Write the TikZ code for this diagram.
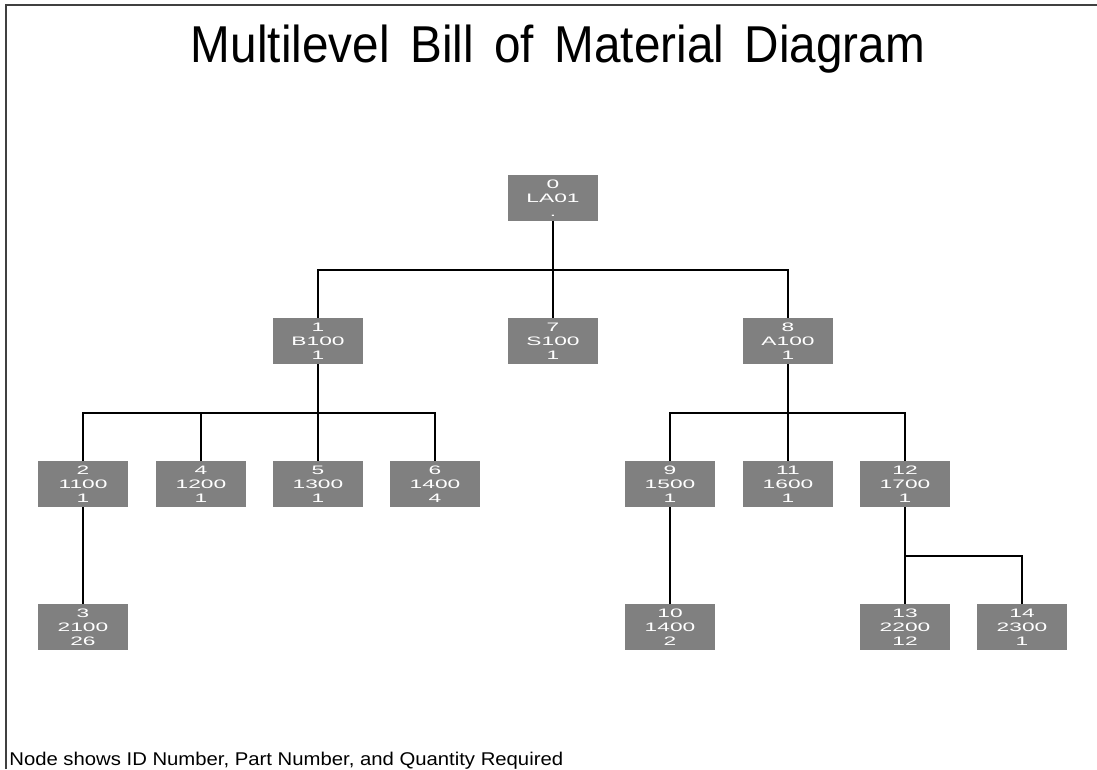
\documentclass[tikz,border=0pt]{standalone}
\usepackage{fontspec}
\setmainfont{Liberation Sans}
\newfontfamily\titlefont[FakeStretch=0.92, WordSpace=1.55]{Liberation Sans}
\newfontfamily\partfont[FakeStretch=1.85]{Liberation Sans}
\newfontfamily\notefont[FakeStretch=1.1]{Liberation Sans}
\usetikzlibrary{positioning}

\begin{document}
\begin{tikzpicture}[x=0.02cm,y=-0.02cm]
		\tikzstyle{every node}=[font=\partfont\fontsize{7}{7.9}\selectfont]
		\tikzstyle{part}=[fill=black!50, text=white, align=center, inner sep=0pt, minimum width=1.8cm, minimum height=0.92cm]
		\tikzstyle{link}=[line width=0.6pt]
		
		\useasboundingbox (0,0) rectangle (1097,769);
		\draw[line width=1.2pt, black!75] (6,769) -- (6,5) -- (1097,5);
		
		\node[anchor=base, inner sep=0pt] (title) at (558,62) {\titlefont\fontsize{29.5}{34}\selectfont Multilevel Bill of Material Diagram};
		\node[anchor=base west, inner sep=0pt] (note) at (9,765) {\notefont\fontsize{10.5}{12}\selectfont Node shows ID Number, Part Number, and Quantity Required};
		
		% level 0
		\node[part] (n0) at (553,198) {0\\LA01\\.};
		% level 1
		\node[part] (n1) at (318,341) {1\\B100\\1};
		\node[part] (n7) at (553,341) {7\\S100\\1};
		\node[part] (n8) at (788,341) {8\\A100\\1};
		% level 2
		\node[part] (n2) at (83,484) {2\\1100\\1};
		\node[part] (n4) at (201,484) {4\\1200\\1};
		\node[part] (n5) at (318,484) {5\\1300\\1};
		\node[part] (n6) at (435,484) {6\\1400\\4};
		\node[part] (n9) at (670,484) {9\\1500\\1};
		\node[part] (n11) at (788,484) {11\\1600\\1};
		\node[part] (n12) at (905,484) {12\\1700\\1};
		% level 3
		\node[part] (n3) at (83,627) {3\\2100\\26};
		\node[part] (n10) at (670,627) {10\\1400\\2};
		\node[part] (n13) at (905,627) {13\\2200\\12};
		\node[part] (n14) at (1022,627) {14\\2300\\1};
		
		% bus points
		\coordinate (b0) at (553,270);
		\coordinate (b1) at (318,413);
		\coordinate (b8) at (788,413);
		\coordinate (b12) at (905,556);
		
		\foreach \c in {n1,n7,n8} \draw[link] (n0.south) -- (b0) -| (\c.north);
		\foreach \c in {n2,n4,n5,n6} \draw[link] (n1.south) -- (b1) -| (\c.north);
		\foreach \c in {n9,n11,n12} \draw[link] (n8.south) -- (b8) -| (\c.north);
		\foreach \c in {n13,n14} \draw[link] (n12.south) -- (b12) -| (\c.north);
		\draw[link] (n2.south) -- (n3.north);
		\draw[link] (n9.south) -- (n10.north);
		
		\end{tikzpicture}
\end{document}
